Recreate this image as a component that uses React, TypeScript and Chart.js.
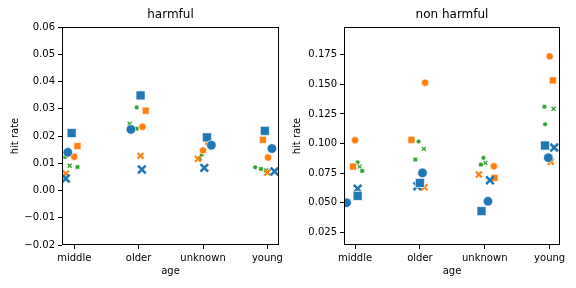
import React, { useEffect, useRef } from 'react';
import { Chart, registerables } from 'chart.js';

Chart.register(...registerables);

const categories = ['middle', 'older', 'unknown', 'young'];
const harmfulTicks = [-0.02, -0.01, 0, 0.01, 0.02, 0.03, 0.04, 0.05, 0.06];
const nonHarmfulTicks = [0.025, 0.05, 0.075, 0.1, 0.125, 0.15, 0.175];

// harmful panel values (per category)
const hBlueCircle = [0.014, 0.0224, 0.0166, 0.0154];
const hBlueSquare = [0.0211, 0.0349, 0.0195, 0.0219];
const hBlueX = [0.0044, 0.0077, 0.0083, 0.007];
const hOrangeCircle = [0.0124, 0.0234, 0.0147, 0.0121];
const hOrangeSquare = [0.0163, 0.0293, 0.0178, 0.0186];
const hOrangeX = [0.0062, 0.0127, 0.0116, 0.0066];
const hGreenCircle = [0.0123, 0.0305, 0.0157, 0.0085];
const hGreenSquare = [0.0086, 0.0227, 0.0132, 0.0079];
const hGreenX = [0.0091, 0.0245, 0.0118, 0.0074];

// harmful panel strip jitter (category units)
const hjBlueCircle = [-0.1, -0.12, 0.13, 0.07];
const hjBlueSquare = [-0.04, 0.03, 0.06, -0.04];
const hjBlueX = [-0.13, 0.05, 0.02, 0.11];
const hjOrangeCircle = [0, 0.06, 0, 0.01];
const hjOrangeSquare = [0.05, 0.11, 0.08, -0.07];
const hjOrangeX = [-0.13, 0.03, -0.08, 0];
const hjGreenCircle = [-0.14, -0.03, 0.13, -0.19];
const hjGreenSquare = [0.05, -0.03, -0.02, -0.1];
const hjGreenX = [-0.07, -0.14, -0.05, -0.02];

// non harmful panel values
const nBlueCircle = [0.05, 0.0752, 0.0512, 0.088];
const nBlueSquare = [0.0558, 0.0667, 0.0429, 0.0983];
const nBlueX = [0.0619, 0.0639, 0.069, 0.0966];
const nOrangeCircle = [0.1028, 0.1513, 0.0808, 0.1736];
const nOrangeSquare = [0.0805, 0.1031, 0.071, 0.1533];
const nOrangeX = [0.0553, 0.063, 0.0738, 0.0845];
const nGreenCircle = [0.0842, 0.1017, 0.0879, 0.1163];
const nGreenSquare = [0.0769, 0.0865, 0.0822, 0.1311];
const nGreenX = [0.0805, 0.0955, 0.0837, 0.1294];

// non harmful jitter
const njBlueCircle = [-0.13, 0.04, 0.05, -0.02];
const njBlueSquare = [0.04, 0, -0.05, -0.07];
const njBlueX = [0.04, -0.04, 0.08, 0.07];
const njOrangeCircle = [0, 0.08, 0.14, 0];
const njOrangeSquare = [-0.03, -0.13, 0.15, 0.05];
const njOrangeX = [0.04, 0.07, -0.09, 0.02];
const njGreenCircle = [0.04, -0.02, -0.02, -0.07];
const njGreenSquare = [0.11, -0.07, -0.06, -0.08];
const njGreenX = [0.07, 0.06, 0.01, 0.06];

const BLUE = '#1f77b4';
const ORANGE = '#ff7f0e';
const GREEN = '#2ca02c';
const FONT = 'DejaVu Sans';

type Marker = { color: string; shape: string; r: number; bw: number };
const markerBlueCircle: Marker = { color: BLUE, shape: 'circle', r: 4.8, bw: 0.7 };
const markerBlueSquare: Marker = { color: BLUE, shape: 'rect', r: 6.4, bw: 0.7 };
const markerBlueX: Marker = { color: BLUE, shape: 'crossRot', r: 5.4, bw: 2.6 };
const markerOrangeCircle: Marker = { color: ORANGE, shape: 'circle', r: 3.7, bw: 0.7 };
const markerOrangeSquare: Marker = { color: ORANGE, shape: 'rect', r: 5.0, bw: 0.7 };
const markerOrangeX: Marker = { color: ORANGE, shape: 'crossRot', r: 4.2, bw: 2.1 };
const markerGreenCircle: Marker = { color: GREEN, shape: 'circle', r: 2.3, bw: 0.5 };
const markerGreenSquare: Marker = { color: GREEN, shape: 'rect', r: 3.0, bw: 0.5 };
const markerGreenX: Marker = { color: GREEN, shape: 'crossRot', r: 2.8, bw: 1.3 };

type Series = { values: number[]; jitter: number[]; marker: Marker };

const harmfulSeries: Series[] = [
  { values: hBlueCircle, jitter: hjBlueCircle, marker: markerBlueCircle },
  { values: hBlueSquare, jitter: hjBlueSquare, marker: markerBlueSquare },
  { values: hBlueX, jitter: hjBlueX, marker: markerBlueX },
  { values: hOrangeCircle, jitter: hjOrangeCircle, marker: markerOrangeCircle },
  { values: hOrangeSquare, jitter: hjOrangeSquare, marker: markerOrangeSquare },
  { values: hOrangeX, jitter: hjOrangeX, marker: markerOrangeX },
  { values: hGreenCircle, jitter: hjGreenCircle, marker: markerGreenCircle },
  { values: hGreenSquare, jitter: hjGreenSquare, marker: markerGreenSquare },
  { values: hGreenX, jitter: hjGreenX, marker: markerGreenX },
];

const nonHarmfulSeries: Series[] = [
  { values: nBlueCircle, jitter: njBlueCircle, marker: markerBlueCircle },
  { values: nBlueSquare, jitter: njBlueSquare, marker: markerBlueSquare },
  { values: nBlueX, jitter: njBlueX, marker: markerBlueX },
  { values: nOrangeCircle, jitter: njOrangeCircle, marker: markerOrangeCircle },
  { values: nOrangeSquare, jitter: njOrangeSquare, marker: markerOrangeSquare },
  { values: nOrangeX, jitter: njOrangeX, marker: markerOrangeX },
  { values: nGreenCircle, jitter: njGreenCircle, marker: markerGreenCircle },
  { values: nGreenSquare, jitter: njGreenSquare, marker: markerGreenSquare },
  { values: nGreenX, jitter: njGreenX, marker: markerGreenX },
];

const boxPlugin = {
  id: 'boxFrame',
  afterDraw(chart: any) {
    const { ctx, chartArea } = chart;
    ctx.save();
    ctx.strokeStyle = '#000';
    ctx.lineWidth = 1;
    ctx.strokeRect(
      Math.round(chartArea.left) + 0.5,
      Math.round(chartArea.top) + 0.5,
      Math.round(chartArea.right - chartArea.left) - 1,
      Math.round(chartArea.bottom - chartArea.top) - 1
    );
    ctx.restore();
  },
};

type PanelProps = {
  title: string;
  series: Series[];
  yTicks: number[];
  decimals: number;
  yMin: number;
  yMax: number;
  xMin: number;
  xMax: number;
  axisWidth: number;
  padRight: number;
  yTitlePad: number;
  left: number;
};

function Panel(p: PanelProps) {
  const ref = useRef<HTMLCanvasElement | null>(null);
  useEffect(() => {
    if (!ref.current) return;
    const datasets = p.series.map((s) => ({
      data: s.values.map((v, i) => ({ x: i + s.jitter[i], y: v })),
      pointStyle: s.marker.shape,
      pointRadius: s.marker.r,
      pointBackgroundColor: s.marker.color,
      pointBorderColor: s.marker.shape === 'crossRot' ? s.marker.color : '#ffffff',
      pointBorderWidth: s.marker.bw,
      showLine: false,
    }));
    const tickFont = { family: FONT, size: 10 };
    const chart = new Chart(ref.current, {
      type: 'scatter',
      data: { datasets } as any,
      plugins: [boxPlugin],
      options: {
        animation: false,
        responsive: false,
        devicePixelRatio: 1,
        layout: { padding: { left: 0, top: 0, right: p.padRight, bottom: 0 } },
        plugins: {
          legend: { display: false },
          tooltip: { enabled: false },
          title: {
            display: true,
            text: p.title,
            fullSize: false,
            color: '#000',
            font: { family: FONT, size: 12, weight: 'normal' },
            padding: { top: 8, bottom: 4.6 },
          },
        },
        scales: {
          x: {
            type: 'linear',
            min: p.xMin,
            max: p.xMax,
            afterBuildTicks: (scale: any) => {
              scale.ticks = categories.map((_, i) => ({ value: i }));
            },
            afterFit: (scale: any) => {
              scale.height = 43;
              scale.paddingLeft = 0;
              scale.paddingRight = 0;
            },
            ticks: {
              autoSkip: false,
              maxRotation: 0,
              color: '#000',
              font: tickFont,
              padding: 3,
              callback: (v: any) => categories[Math.round(Number(v))] ?? '',
            },
            grid: { drawOnChartArea: false, drawTicks: true, tickLength: 4, color: '#000' },
            border: { display: false },
            title: {
              display: true,
              text: 'age',
              color: '#000',
              font: { family: FONT, size: 10 },
              padding: { top: 0, bottom: 11 },
            },
          },
          y: {
            type: 'linear',
            min: p.yMin,
            max: p.yMax,
            afterBuildTicks: (scale: any) => {
              scale.ticks = p.yTicks.map((v) => ({ value: v }));
            },
            afterFit: (scale: any) => {
              scale.width = p.axisWidth;
              scale.paddingTop = 0;
              scale.paddingBottom = 0;
            },
            ticks: {
              autoSkip: false,
              color: '#000',
              font: tickFont,
              padding: 3,
              callback: (v: any) => Number(v).toFixed(p.decimals).replace('-', '\u2212'),
            },
            grid: { drawOnChartArea: false, drawTicks: true, tickLength: 4, color: '#000' },
            border: { display: false },
            title: {
              display: true,
              text: 'hit rate',
              color: '#000',
              font: { family: FONT, size: 10 },
              padding: { top: p.yTitlePad, bottom: 0 },
            },
          },
        },
      } as any,
    });
    return () => chart.destroy();
  }, []);
  return (
    <canvas
      ref={ref}
      width={288}
      height={288}
      style={{ position: 'absolute', left: p.left, top: 0, width: 288, height: 288 }}
    />
  );
}

export default function App() {
  return (
    <div style={{ position: 'fixed', left: 0, top: 0, width: 576, height: 288, background: '#fff' }}>
      <Panel
        title="harmful"
        series={harmfulSeries}
        yTicks={harmfulTicks}
        decimals={2}
        yMin={-0.02}
        yMax={0.06}
        xMin={-0.19}
        xMax={3.18}
        axisWidth={62}
        padRight={9}
        yTitlePad={9}
        left={0}
      />
      <Panel
        title="non harmful"
        series={nonHarmfulSeries}
        yTicks={nonHarmfulTicks}
        decimals={3}
        yMin={0.0143}
        yMax={0.1984}
        xMin={-0.17}
        xMax={3.16}
        axisWidth={56}
        padRight={16}
        yTitlePad={3}
        left={288}
      />
    </div>
  );
}
